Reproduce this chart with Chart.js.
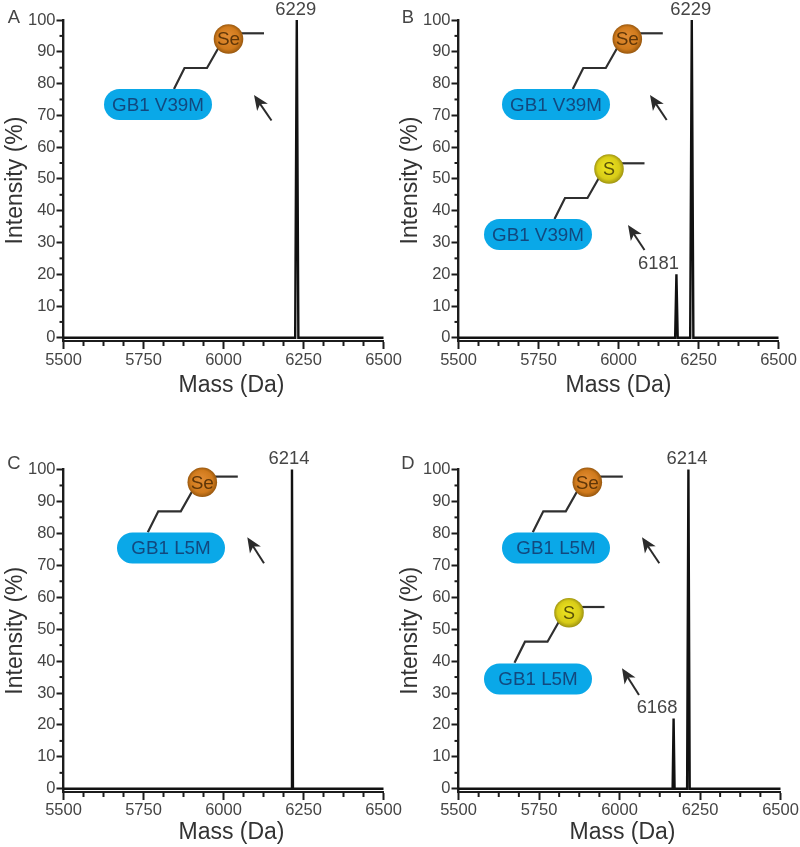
<!DOCTYPE html>
<html>
<head>
<meta charset="utf-8">
<title>Intact mass spectra</title>
<script src="https://cdn.jsdelivr.net/npm/chart.js@4/dist/chart.umd.min.js"></script>
<style>
    html, body { margin: 0; background: #fff; }
    #page { position: relative; width: 800px; height: 847px; overflow: hidden; }
    canvas { position: absolute; filter: blur(0.4px); }
</style>
</head>
<body>
<div id="page"></div>
<script>
// Values
const xTicks = [5500, 5750, 6000, 6250, 6500];
const xMinorTicks = [5562.5, 5625, 5687.5, 5812.5, 5875, 5937.5, 6062.5, 6125, 6187.5, 6312.5, 6375, 6437.5];
const yTicks = [0, 10, 20, 30, 40, 50, 60, 70, 80, 90, 100];
const yMinorTicks = [5, 15, 25, 35, 45, 55, 65, 75, 85, 95];

const massA = [5500, 6224, 6229, 6234, 6500];
const intensityA = [0, 0, 100, 0, 0];
const massB = [5500, 6177, 6181, 6185, 6224, 6229, 6234, 6500];
const intensityB = [0, 0, 20, 0, 0, 100, 0, 0];
const massC = [5500, 6211, 6214, 6217, 6500];
const intensityC = [0, 0, 100, 0, 0];
const massD = [5500, 6165, 6168, 6171, 6210, 6214, 6218, 6500];
const intensityD = [0, 0, 22, 0, 0, 100, 0, 0];

const INK = '#1c1c1c';
const TEXT = '#454545';
const FONT = '"Liberation Sans", Arial, sans-serif';

// Panel layout, all in page pixels. Canvases run past the page edge so the last tick label never squeezes the axis
const panels = [
    {
        letter: 'A', letterPos: [14, 18], left: 0, top: 0, width: 420, height: 399,
        padTop: 20, padRight: 36.5, xScaleHeight: 58, tickPad: 2, titleShift: 8,
        mass: massA, intensity: intensityA,
        peaks: [{ mass: 6229, y: 100, text: '6229', dx: -1 }],
        tags: [{ pill: [158, 104.5], ball: [228.5, 39], atom: 'Se', label: 'GB1 V39M', arrow: [254, 95, 271.5, 120.5] }]
    },
    {
        letter: 'B', letterPos: [408, 18], left: 395, top: 0, width: 425, height: 399,
        padTop: 20, padRight: 41.5, xScaleHeight: 58, tickPad: 2, titleShift: 0,
        mass: massB, intensity: intensityB,
        peaks: [
            { mass: 6229, y: 100, text: '6229', dx: -1 },
            { mass: 6181, y: 20, text: '6181', dx: -18 }
        ],
        tags: [
            { pill: [556, 104.5], ball: [627.3, 39], atom: 'Se', label: 'GB1 V39M', arrow: [650, 95, 666.7, 120] },
            { pill: [538, 234.5], ball: [609, 169], atom: 'S', label: 'GB1 V39M', arrow: [628, 225, 644.5, 250] }
        ]
    },
    {
        letter: 'C', letterPos: [14, 464], left: 0, top: 450, width: 420, height: 396,
        padTop: 19.5, padRight: 36.5, xScaleHeight: 54, tickPad: 1, titleShift: 8,
        mass: massC, intensity: intensityC,
        peaks: [{ mass: 6214, y: 100, text: '6214', dx: -3 }],
        tags: [{ pill: [171, 548], ball: [202.3, 482.3], atom: 'Se', label: 'GB1 L5M', arrow: [247.3, 537.3, 264, 563.3] }]
    },
    {
        letter: 'D', letterPos: [408, 464], left: 395, top: 450, width: 425, height: 396,
        padTop: 19.5, padRight: 39.5, xScaleHeight: 54, tickPad: 1, titleShift: 3,
        mass: massD, intensity: intensityD,
        peaks: [
            { mass: 6214, y: 100, text: '6214', dx: -1.5 },
            { mass: 6168, y: 22, text: '6168', dx: -16.5 }
        ],
        tags: [
            { pill: [556, 548], ball: [587.3, 482.3], atom: 'Se', label: 'GB1 L5M', arrow: [642, 537.3, 659.3, 563.3] },
            { pill: [538, 679], ball: [569, 612.7], atom: 'S', label: 'GB1 L5M', arrow: [622, 668.3, 639, 695] }
        ]
    }
];

function drawTag(ctx, tag) {
    const [px, py] = tag.pill;
    const [bx, by] = tag.ball;

    // side chain, ball to pill
    ctx.strokeStyle = '#2f2f2f';
    ctx.lineWidth = 2.2;
    ctx.lineJoin = 'miter';
    ctx.beginPath();
    ctx.moveTo(bx - 54.5, by + 50);
    ctx.lineTo(bx - 44, by + 29);
    ctx.lineTo(bx - 21.5, by + 29);
    ctx.lineTo(bx - 5, by);
    ctx.stroke();
    ctx.beginPath();
    ctx.moveTo(bx + 10, by - 5.7);
    ctx.lineTo(bx + 35.5, by - 5.7);
    ctx.stroke();

    // pill
    ctx.fillStyle = '#0aa8e8';
    ctx.beginPath();
    ctx.roundRect(px - 54, py - 15.5, 108, 31, 15.5);
    ctx.fill();
    ctx.fillStyle = '#12497f';
    ctx.font = '18.8px ' + FONT;
    ctx.textAlign = 'center';
    ctx.textBaseline = 'middle';
    ctx.fillText(tag.label, px, py + 1);

    // atom
    const isSe = tag.atom === 'Se';
    const grad = ctx.createRadialGradient(bx - 2, by - 3, 2, bx, by, 15);
    grad.addColorStop(0, isSe ? '#e08a30' : '#ece21f');
    grad.addColorStop(0.7, isSe ? '#d07a1c' : '#d8cc18');
    grad.addColorStop(1, isSe ? '#95560e' : '#9c9110');
    ctx.fillStyle = grad;
    ctx.beginPath();
    ctx.arc(bx, by, 14.8, 0, Math.PI * 2);
    ctx.fill();
    ctx.fillStyle = isSe ? '#5f3608' : '#5a5208';
    ctx.font = (isSe ? '19px ' : '18px ') + FONT;
    ctx.fillText(tag.atom, bx, by + 1);

    // arrow
    const [tipX, tipY, endX, endY] = tag.arrow;
    const ang = Math.atan2(endY - tipY, endX - tipX);
    const along = (d, s) => [tipX + d * Math.cos(ang) - s * Math.sin(ang), tipY + d * Math.sin(ang) + s * Math.cos(ang)];
    ctx.strokeStyle = '#2b2b2b';
    ctx.lineWidth = 2;
    ctx.beginPath();
    ctx.moveTo(...along(8, 0));
    ctx.lineTo(endX, endY);
    ctx.stroke();
    ctx.fillStyle = '#2b2b2b';
    ctx.beginPath();
    ctx.moveTo(tipX, tipY);
    ctx.lineTo(...along(15, 6.5));
    ctx.lineTo(...along(11, 0));
    ctx.lineTo(...along(15, -6.5));
    ctx.closePath();
    ctx.fill();
}

// Minor ticks, peak labels, structures and the panel letter
const figurePlugin = {
    id: 'figureExtras',
    afterLayout(chart) {
        // move the x axis title sideways, the figure has it off centre in some panels
        const panel = chart.config.options.panel;
        const x = chart.scales.x;
        if (x.shifted) return;
        x.shifted = true;
        const drawTitle = x.drawTitle;
        x.drawTitle = function () {
            chart.ctx.save();
            chart.ctx.translate(panel.titleShift, 0);
            drawTitle.call(x);
            chart.ctx.restore();
        };
    },
    afterDraw(chart) {
        const { ctx, scales: { x, y } } = chart;
        const panel = chart.config.options.panel;
        ctx.save();

        ctx.strokeStyle = INK;
        ctx.lineWidth = 2;
        xMinorTicks.forEach(v => {
            const px = x.getPixelForValue(v);
            ctx.beginPath();
            ctx.moveTo(px, x.top);
            ctx.lineTo(px, x.top + 5);
            ctx.stroke();
        });
        yMinorTicks.forEach(v => {
            const py = y.getPixelForValue(v);
            ctx.beginPath();
            ctx.moveTo(y.right, py);
            ctx.lineTo(y.right - 4, py);
            ctx.stroke();
        });

        ctx.fillStyle = TEXT;
        ctx.font = '18.4px ' + FONT;
        ctx.textAlign = 'center';
        ctx.textBaseline = 'middle';
        panel.peaks.forEach(p => {
            ctx.fillText(p.text, x.getPixelForValue(p.mass) + p.dx, y.getPixelForValue(p.y) - 10.5);
        });

        ctx.translate(-panel.left, -panel.top);
        ctx.fillText(panel.letter, panel.letterPos[0], panel.letterPos[1]);
        panel.tags.forEach(t => drawTag(ctx, t));
        ctx.restore();
    }
};

const page = document.getElementById('page');

panels.forEach(panel => {
    const canvas = document.createElement('canvas');
    canvas.width = panel.width;
    canvas.height = panel.height;
    canvas.style.left = panel.left + 'px';
    canvas.style.top = panel.top + 'px';
    page.appendChild(canvas);

    new Chart(canvas.getContext('2d'), {
        type: 'line',
        data: {
            datasets: [{
                data: panel.mass.map((m, i) => ({ x: m, y: panel.intensity[i] })),
                borderColor: '#111',
                borderWidth: 2.4,
                pointRadius: 0,
                tension: 0,
                clip: false
            }]
        },
        plugins: [figurePlugin],
        options: {
            panel: panel,
            responsive: false,
            animation: false,
            events: [],
            layout: { padding: { top: panel.padTop, right: panel.padRight, left: 0, bottom: 0 } },
            plugins: { legend: { display: false }, tooltip: { enabled: false } },
            scales: {
                x: {
                    type: 'linear',
                    min: 5500,
                    max: 6500,
                    afterBuildTicks: scale => { scale.ticks = xTicks.map(v => ({ value: v })); },
                    afterFit: scale => { scale.height = panel.xScaleHeight; },
                    grid: { drawOnChartArea: false, drawTicks: true, tickLength: 8, tickWidth: 2, tickColor: INK },
                    border: { color: INK, width: 2 },
                    ticks: { color: TEXT, font: { family: FONT, size: 16.5 }, padding: panel.tickPad, maxRotation: 0, autoSkip: false, callback: v => String(v) },
                    title: { display: true, text: 'Mass (Da)', color: '#333', font: { family: FONT, size: 23 }, padding: 0 }
                },
                y: {
                    min: -1,
                    max: 100,
                    afterBuildTicks: scale => { scale.ticks = yTicks.map(v => ({ value: v })); },
                    afterFit: scale => { scale.width = 63.5; },
                    grid: { drawOnChartArea: false, drawTicks: true, tickLength: 7, tickWidth: 2, tickColor: INK },
                    border: { color: INK, width: 2.4 },
                    ticks: { color: TEXT, font: { family: FONT, size: 16.5 }, padding: 1, autoSkip: false },
                    title: { display: true, text: 'Intensity (%)', color: '#333', font: { family: FONT, size: 23 }, padding: { top: 2, bottom: 0 } }
                }
            }
        }
    });
});
</script>
</body>
</html>
